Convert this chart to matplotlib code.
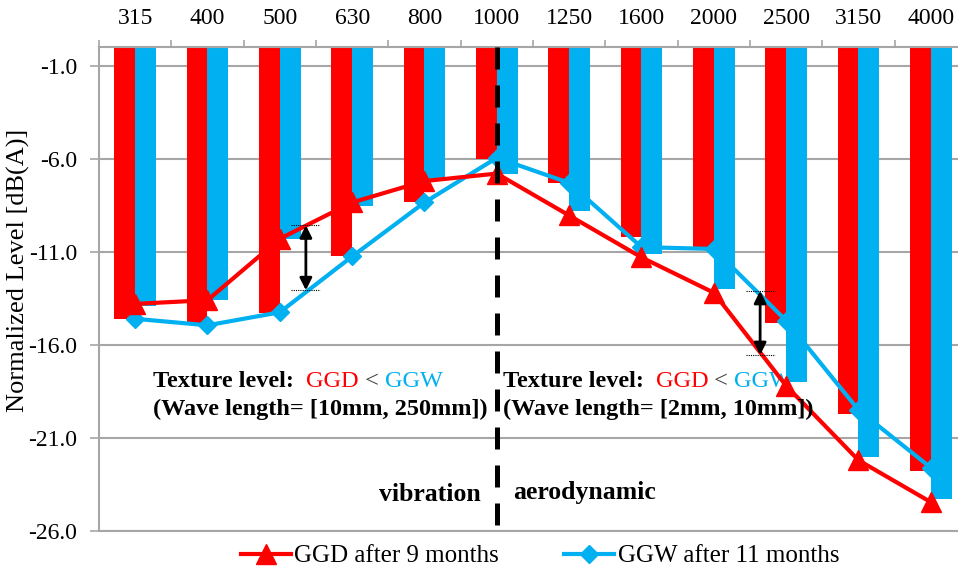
import numpy as np
import matplotlib
matplotlib.use("Agg")
import matplotlib.pyplot as plt
from matplotlib.lines import Line2D

# ---------------- data ----------------
freqs = ["315", "400", "500", "630", "800", "1000",
         "1250", "1600", "2000", "2500", "3150", "4000"]

# bars (hang down from 0)
ggd_bars = [-14.6, -14.8, -14.3, -11.25, -8.3, -6.0,
            -7.3, -10.2, -10.75, -14.85, -19.7, -22.8]
ggw_bars = [-13.9, -13.6, -10.3, -8.55, -7.1, -6.8,
            -8.8, -11.1, -13.0, -18.0, -22.0, -24.3]

# lines with markers
ggd_line = [-13.8, -13.6, -10.3, -8.35, -7.2, -6.8,
            -9.05, -11.3, -13.2, -18.2, -22.2, -24.45]
ggw_line = [-14.6, -14.95, -14.25, -11.25, -8.35, -5.95,
            -7.3, -10.75, -10.85, -14.7, -19.5, -22.6]

yticks = [-1.0, -6.0, -11.0, -16.0, -21.0, -26.0]

RED = "#FF0000"
BLUE = "#00B0F0"
GRID = "#A6A6A6"
FONT = ["Liberation Serif", "DejaVu Serif"]

plt.rcParams["font.family"] = FONT

fig = plt.figure(figsize=(9.58, 5.74), dpi=100)
ax = fig.add_axes([99 / 958, 1 - 531 / 574, 868 / 958, 484 / 574])

x = np.arange(len(freqs))
w = 0.29
ax.bar(x - w / 2, ggd_bars, width=w, color=RED, zorder=2)
ax.bar(x + w / 2, ggw_bars, width=w, color=BLUE, zorder=2)

ax.plot(x, ggd_line, color=RED, lw=3, marker="^", ms=14, zorder=4)
ax.plot(x, ggw_line, color=BLUE, lw=3, marker="D", ms=9, zorder=3)

# vibration / aerodynamic divider at 1000 Hz
ax.plot([5, 5], [0, -26], color="black", lw=3.6, dashes=(4.4, 3.2), zorder=5)

ax.set_xlim(-0.5, len(freqs) - 0.5)
ax.set_ylim(-26, 0)

# axes styling
ax.xaxis.tick_top()
ax.set_xticks(x)
ax.set_xticklabels(freqs, fontsize=17)
ax.set_xticks(np.arange(-0.5, len(freqs)), minor=True)
ax.tick_params(axis="x", which="major", length=0, pad=13)
ax.tick_params(axis="x", which="minor", length=5, width=1.2, color=GRID, top=True, bottom=False)
ax.set_yticks(yticks)
ax.set_yticklabels([f"{v:.1f}" for v in yticks], fontsize=17)
ax.tick_params(axis="y", length=6.5, width=1.2, color=GRID, pad=9)
ax.grid(axis="y", color=GRID, lw=1.5, zorder=0)
ax.set_axisbelow(True)
for s in ["top", "bottom", "left"]:
    ax.spines[s].set_color(GRID)
    ax.spines[s].set_linewidth(1.5)
ax.spines["right"].set_visible(False)
ax.set_ylabel("Normalized Level [dB(A)]", fontsize=19)
ax.yaxis.set_label_coords(-0.0795, 0.539)

# double arrows showing the texture difference
arrows = [(2.36, -9.58, -13.07), (8.64, -13.1, -16.55)]
for ax_x, y_top, y_bot in arrows:
    ax.annotate("", xy=(ax_x, y_top), xytext=(ax_x, y_bot),
                arrowprops=dict(arrowstyle="<|-|>", color="black", lw=2,
                                mutation_scale=18, shrinkA=0, shrinkB=0), zorder=6)
    for yy in (y_top, y_bot):
        ax.plot([ax_x - 0.2, ax_x + 0.2], [yy, yy], color="black", lw=0.8, ls=(0, (1, 1)), zorder=6)


def texture_note(x0, y0, second):
    t = ax.text(x0, y0, "Texture level:  ", fontsize=17.5, fontweight="bold", va="baseline", zorder=7)
    a = ax.annotate("GGD", xy=(1, 0), xycoords=t, fontsize=17.5, color=RED, va="bottom")
    b = ax.annotate(" < ", xy=(1, 0), xycoords=a, fontsize=17.5, color="#404040", va="bottom")
    ax.annotate("GGW", xy=(1, 0), xycoords=b, fontsize=17.5, color=BLUE, va="bottom")
    ax.text(x0, y0 - 1.5, second, fontsize=17.5, fontweight="bold", va="baseline", zorder=7)


texture_note(0.25, -18.25, "(Wave length= [10mm, 250mm])")
texture_note(5.08, -18.25, "(Wave length= [2mm, 10mm])")

ax.text(4.78, -24.05, "vibration", fontsize=18.5, fontweight="bold", ha="right", va="center")
ax.text(5.22, -23.95, "aerodynamic", fontsize=18.5, fontweight="bold", ha="left", va="center")

handles = [Line2D([], [], color=RED, lw=3, marker="^", ms=14),
           Line2D([], [], color=BLUE, lw=3, marker="D", ms=9)]
fig.legend(handles, ["GGD after 9 months", "GGW after 11 months"],
           loc="center", bbox_to_anchor=(540 / 958, 1 - 556 / 574), ncol=2,
           frameon=False, fontsize=18, handlelength=2.0, handletextpad=0.15,
           columnspacing=2.6)

fig.savefig("out.png", dpi=100)
